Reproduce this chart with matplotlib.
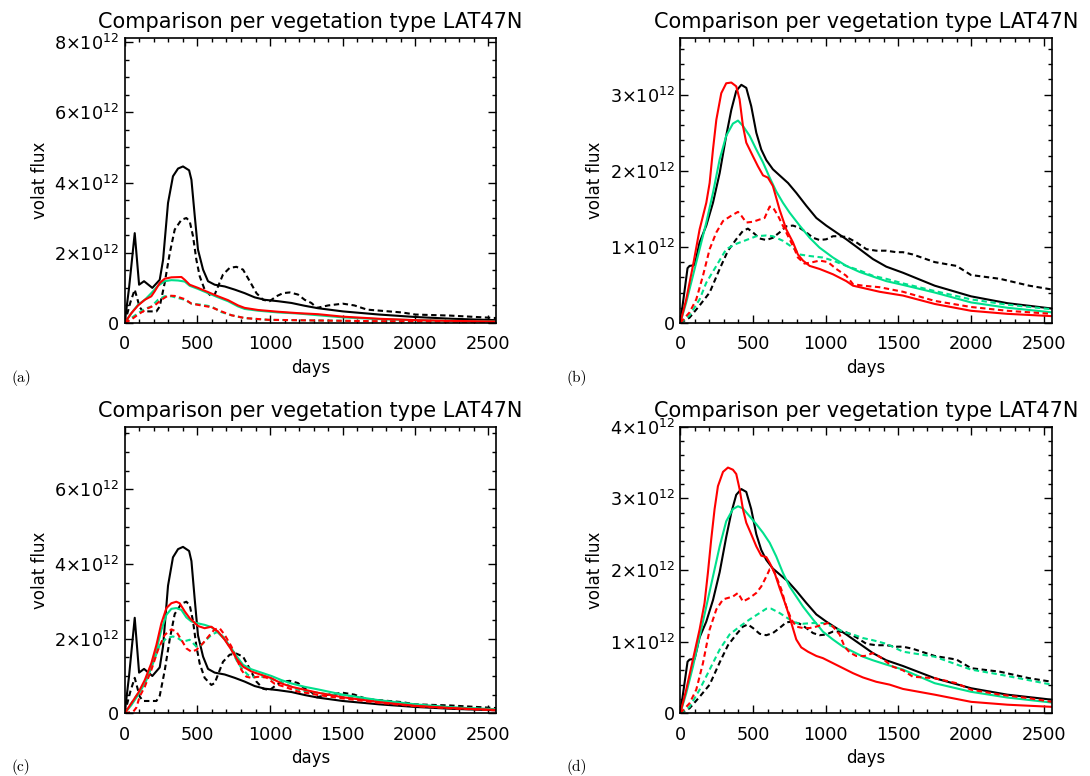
import matplotlib
matplotlib.use("Agg")
import matplotlib.pyplot as plt
from matplotlib.ticker import MultipleLocator, FuncFormatter

plt.rcParams["font.family"] = ["DejaVu Sans"]
plt.rcParams["mathtext.default"] = "regular"

TITLE = "Comparison per vegetation type LAT47N"
GREEN = "#00E08C"

# ---- reference (black) curves, shared by a/c and by b/d; values in 1e12 ----
ka_day = [0, 30, 69, 99, 133, 190, 241, 264, 298, 332, 367, 401, 443, 459, 482, 504,
          539, 573, 619, 688, 757, 825, 894, 963, 1055, 1147, 1238, 1330, 1500,
          1750, 2000, 2250, 2555]
ka_val = [0, 1.0, 2.56, 1.09, 1.19, 1.0, 1.23, 1.8, 3.42, 4.18, 4.4, 4.46, 4.35, 4.08,
          3.04, 2.09, 1.52, 1.19, 1.09, 1.04, 0.95, 0.85, 0.73, 0.66, 0.62, 0.57,
          0.49, 0.42, 0.33, 0.24, 0.17, 0.12, 0.08]
kda_day = [0, 40, 69, 103, 126, 218, 241, 275, 310, 344, 390, 424, 447, 470, 493,
           516, 550, 596, 619, 642, 676, 722, 768, 814, 860, 906, 952, 997, 1043,
           1089, 1135, 1192, 1238, 1284, 1322, 1400, 1500, 1580, 1667, 1757, 1906,
           2000, 2239, 2555]
kda_val = [0, 0.6, 0.95, 0.45, 0.33, 0.33, 0.47, 1.14, 1.99, 2.66, 2.94, 2.99, 2.9,
           2.47, 1.8, 1.33, 0.95, 0.76, 0.81, 1.04, 1.38, 1.57, 1.6, 1.52, 1.19, 0.85,
           0.66, 0.62, 0.76, 0.85, 0.87, 0.81, 0.66, 0.57, 0.43, 0.5, 0.55, 0.5,
           0.38, 0.35, 0.30, 0.24, 0.21, 0.14]

kb_day = [0, 50, 64, 99, 133, 179, 225, 271, 316, 351, 385, 420, 454, 488, 523, 557,
          592, 637, 683, 741, 798, 867, 936, 1004, 1073, 1142, 1234, 1325, 1417,
          1532, 1750, 2000, 2250, 2555]
kb_val = [0, 0.72, 0.75, 0.76, 1.06, 1.28, 1.58, 1.97, 2.46, 2.8, 3.05, 3.13, 3.09,
          2.85, 2.5, 2.28, 2.14, 2.02, 1.94, 1.84, 1.71, 1.54, 1.38, 1.28, 1.19, 1.10,
          0.97, 0.84, 0.74, 0.66, 0.49, 0.35, 0.26, 0.19]
kdb_day = [0, 64, 133, 202, 271, 328, 385, 431, 465, 500, 546, 592, 637, 683, 729,
           775, 821, 867, 913, 958, 1004, 1050, 1096, 1142, 1211, 1280, 1348, 1417,
           1486, 1532, 1600, 1750, 1900, 2000, 2200, 2400, 2555]
kdb_val = [0, 0.07, 0.23, 0.40, 0.71, 0.95, 1.10, 1.21, 1.24, 1.19, 1.11, 1.09, 1.12,
           1.19, 1.27, 1.28, 1.25, 1.19, 1.12, 1.09, 1.10, 1.14, 1.14, 1.13, 1.06,
           0.97, 0.95, 0.95, 0.93, 0.93, 0.90, 0.80, 0.75, 0.63, 0.58, 0.49, 0.44]

# ---- panel (a) ----
ga_day = [0, 46, 92, 138, 183, 229, 275, 321, 367, 413, 447, 504, 573, 642, 711, 780,
          825, 917, 1055, 1192, 1330, 1500, 1750, 2000, 2250, 2555]
ga_val = [0, 0.28, 0.52, 0.66, 0.85, 1.06, 1.19, 1.22, 1.21, 1.18, 1.06, 0.97, 0.85,
          0.73, 0.62, 0.47, 0.40, 0.35, 0.30, 0.27, 0.22, 0.16, 0.11, 0.08, 0.06, 0.04]
ra_day = [0, 46, 92, 138, 183, 206, 241, 275, 321, 390, 413, 447, 504, 573, 642, 711,
          780, 825, 917, 1055, 1192, 1330, 1500, 1750, 2000, 2250, 2555]
ra_val = [0, 0.28, 0.50, 0.66, 0.76, 0.90, 1.14, 1.26, 1.30, 1.31, 1.23, 1.09, 1.0,
          0.88, 0.76, 0.65, 0.50, 0.43, 0.37, 0.32, 0.28, 0.25, 0.18, 0.12, 0.08,
          0.06, 0.04]
gda_day = [0, 46, 92, 138, 183, 229, 275, 321, 367, 413, 459, 527, 596, 665, 734,
           825, 986, 1330, 1750, 2555]
gda_val = [0, 0.14, 0.28, 0.40, 0.47, 0.66, 0.76, 0.76, 0.71, 0.66, 0.55, 0.52, 0.47,
           0.31, 0.22, 0.14, 0.09, 0.07, 0.05, 0.03]
rda_day = [0, 46, 92, 160, 206, 252, 298, 344, 413, 459, 527, 596, 665, 734, 825,
           986, 1330, 1750, 2555]
rda_val = [0, 0.10, 0.24, 0.42, 0.50, 0.66, 0.78, 0.77, 0.68, 0.55, 0.50, 0.45, 0.33,
           0.22, 0.14, 0.09, 0.07, 0.05, 0.03]

# ---- panel (b) ----
rb_day = [0, 41, 87, 133, 179, 202, 225, 248, 282, 316, 351, 385, 408, 431, 454, 500,
          534, 569, 603, 637, 683, 729, 775, 809, 844, 890, 958, 1050, 1142, 1188,
          1280, 1371, 1532, 1750, 2000, 2250, 2555]
rb_val = [0, 0.31, 0.75, 1.23, 1.58, 1.84, 2.28, 2.67, 3.02, 3.15, 3.16, 3.11, 2.94,
          2.59, 2.37, 2.19, 2.06, 1.94, 1.91, 1.80, 1.49, 1.23, 1.06, 0.90, 0.82,
          0.75, 0.71, 0.64, 0.55, 0.49, 0.45, 0.41, 0.36, 0.25, 0.16, 0.12, 0.09]
gb_day = [0, 41, 87, 133, 179, 225, 271, 316, 362, 397, 431, 477, 523, 569, 615, 660,
          706, 752, 821, 890, 958, 1050, 1142, 1234, 1325, 1417, 1532, 1750, 2000,
          2250, 2555]
gb_val = [0, 0.27, 0.62, 0.97, 1.32, 1.71, 2.15, 2.46, 2.62, 2.66, 2.59, 2.46, 2.28,
          2.11, 1.91, 1.73, 1.58, 1.45, 1.28, 1.12, 0.99, 0.86, 0.75, 0.67, 0.61,
          0.55, 0.50, 0.40, 0.27, 0.20, 0.14]
gdb_day = [0, 64, 133, 179, 248, 316, 385, 454, 523, 592, 637, 706, 775, 821, 890,
           981, 1050, 1142, 1234, 1325, 1417, 1532, 1750, 2000, 2250, 2555]
gdb_val = [0, 0.10, 0.31, 0.53, 0.75, 0.97, 1.04, 1.09, 1.14, 1.15, 1.14, 1.08, 0.99,
           0.90, 0.88, 0.86, 0.82, 0.75, 0.69, 0.62, 0.58, 0.52, 0.42, 0.31, 0.24,
           0.18]
rdb_day = [0, 64, 110, 156, 202, 248, 294, 351, 397, 420, 454, 500, 546, 580, 615,
           637, 672, 718, 752, 786, 809, 855, 913, 958, 1016, 1073, 1142, 1188, 1257,
           1371, 1532, 1750, 2000, 2250, 2555]
rdb_val = [0, 0.14, 0.31, 0.62, 0.97, 1.19, 1.34, 1.41, 1.46, 1.41, 1.32, 1.33, 1.36,
           1.38, 1.53, 1.52, 1.41, 1.23, 1.10, 0.97, 0.86, 0.78, 0.80, 0.82, 0.80,
           0.71, 0.62, 0.51, 0.49, 0.47, 0.41, 0.29, 0.21, 0.16, 0.12]

# ---- panel (c) ----
rc_day = [0, 46, 92, 138, 183, 218, 252, 287, 321, 355, 378, 413, 447, 504, 550, 596,
          642, 688, 734, 768, 814, 871, 940, 1009, 1078, 1147, 1238, 1330, 1500,
          1750, 2000, 2250, 2555]
rc_val = [0, 0.27, 0.54, 0.89, 1.34, 1.83, 2.41, 2.82, 2.95, 2.99, 2.95, 2.73, 2.55,
          2.34, 2.28, 2.32, 2.19, 1.97, 1.70, 1.47, 1.25, 1.12, 1.03, 0.94, 0.80,
          0.71, 0.63, 0.55, 0.43, 0.30, 0.20, 0.14, 0.09]
gc_day = [0, 46, 92, 138, 183, 218, 252, 287, 321, 355, 390, 424, 459, 504, 550, 596,
          642, 688, 734, 768, 814, 871, 940, 1009, 1078, 1147, 1238, 1330, 1500,
          1750, 2000, 2250, 2555]
gc_val = [0, 0.22, 0.49, 0.80, 1.25, 1.70, 2.23, 2.64, 2.80, 2.82, 2.77, 2.57, 2.46,
          2.41, 2.37, 2.31, 2.16, 1.98, 1.74, 1.54, 1.30, 1.18, 1.09, 1.0, 0.89,
          0.80, 0.71, 0.64, 0.50, 0.35, 0.24, 0.16, 0.11]
rdc_day = [0, 60, 80, 103, 138, 183, 229, 275, 321, 355, 390, 424, 459, 493, 539, 585,
           619, 653, 688, 734, 768, 803, 837, 871, 917, 975, 1032, 1101, 1192, 1261,
           1330, 1500, 1750, 2000, 2250, 2555]
rdc_val = [0, 0.05, 0.15, 0.45, 0.71, 1.16, 1.70, 2.10, 2.25, 2.19, 1.97, 1.74, 1.65,
           1.70, 1.88, 2.10, 2.25, 2.28, 2.10, 1.79, 1.47, 1.16, 0.98, 0.95, 0.98,
           0.96, 0.79, 0.71, 0.58, 0.54, 0.49, 0.40, 0.28, 0.19, 0.13, 0.08]
gdc_day = [0, 46, 92, 149, 195, 241, 287, 332, 367, 401, 447, 493, 527, 562, 596, 642,
           688, 734, 768, 803, 848, 894, 963, 1032, 1101, 1192, 1261, 1330, 1500,
           1750, 2000, 2250, 2555]
gdc_val = [0, 0.27, 0.54, 0.89, 1.34, 1.83, 2.01, 2.06, 2.01, 1.92, 1.97, 1.79, 1.83,
           1.97, 2.10, 2.19, 2.01, 1.70, 1.43, 1.21, 1.03, 0.97, 0.98, 0.89, 0.80,
           0.63, 0.58, 0.55, 0.45, 0.32, 0.22, 0.15, 0.10]

# ---- panel (d) ----
rd_day = [0, 41, 87, 133, 167, 190, 213, 236, 259, 294, 328, 362, 385, 408, 431, 454,
          488, 523, 557, 592, 615, 649, 683, 729, 764, 798, 832, 878, 936, 981, 1050,
          1119, 1188, 1257, 1348, 1440, 1532, 1750, 2000, 2250, 2555]
rd_val = [0, 0.33, 0.75, 1.17, 1.54, 1.96, 2.43, 2.85, 3.17, 3.37, 3.43, 3.40, 3.34,
          3.13, 2.85, 2.66, 2.50, 2.33, 2.20, 2.18, 2.10, 1.96, 1.75, 1.49, 1.26,
          1.03, 0.92, 0.86, 0.80, 0.77, 0.70, 0.63, 0.56, 0.50, 0.44, 0.40, 0.34,
          0.26, 0.16, 0.12, 0.09]
gd_day = [0, 41, 87, 133, 179, 225, 271, 316, 362, 397, 431, 477, 523, 569, 615, 660,
          706, 752, 798, 844, 913, 981, 1050, 1119, 1188, 1257, 1325, 1417, 1532,
          1750, 2000, 2250, 2555]
gd_val = [0, 0.28, 0.65, 1.07, 1.49, 1.91, 2.33, 2.68, 2.85, 2.89, 2.86, 2.75, 2.64,
          2.52, 2.38, 2.19, 1.96, 1.77, 1.63, 1.49, 1.31, 1.14, 1.03, 0.93, 0.86,
          0.79, 0.74, 0.68, 0.61, 0.42, 0.30, 0.22, 0.15]
gdd_day = [0, 64, 133, 202, 271, 339, 408, 477, 546, 592, 626, 683, 752, 798, 844,
           913, 981, 1050, 1119, 1188, 1257, 1325, 1417, 1532, 1750, 2000, 2200, 2555]
gdd_val = [0, 0.09, 0.33, 0.61, 0.89, 1.10, 1.21, 1.31, 1.40, 1.46, 1.46, 1.40, 1.31,
           1.26, 1.25, 1.26, 1.26, 1.21, 1.14, 1.10, 1.05, 1.02, 0.97, 0.86, 0.79,
           0.61, 0.54, 0.40]
rdd_day = [0, 64, 110, 156, 202, 248, 294, 362, 397, 431, 477, 523, 557, 592, 615,
           637, 660, 695, 729, 764, 798, 844, 890, 936, 981, 1016, 1050, 1096, 1130,
           1165, 1211, 1268, 1325, 1371, 1417, 1463, 1532, 1600, 1750, 1900, 2000,
           2200, 2400, 2555]
rdd_val = [0, 0.14, 0.33, 0.70, 1.17, 1.45, 1.59, 1.63, 1.68, 1.56, 1.61, 1.68, 1.77,
           1.91, 2.01, 2.01, 1.91, 1.73, 1.49, 1.31, 1.21, 1.19, 1.19, 1.21, 1.24,
           1.26, 1.21, 1.10, 0.93, 0.85, 0.80, 0.80, 0.84, 0.79, 0.72, 0.65, 0.60,
           0.51, 0.49, 0.42, 0.33, 0.26, 0.21, 0.16]

PANELS = [
    ("(a)", 8.13, 2, 0.5,
     [(ka_day, ka_val, "k", "-"), (kda_day, kda_val, "k", "--"),
      (ga_day, ga_val, GREEN, "-"), (gda_day, gda_val, GREEN, "--"),
      (ra_day, ra_val, "red", "-"), (rda_day, rda_val, "red", "--")]),
    ("(b)", 3.75, 1, 0.2,
     [(kb_day, kb_val, "k", "-"), (kdb_day, kdb_val, "k", "--"),
      (gb_day, gb_val, GREEN, "-"), (gdb_day, gdb_val, GREEN, "--"),
      (rb_day, rb_val, "red", "-"), (rdb_day, rdb_val, "red", "--")]),
    ("(c)", 7.68, 2, 0.5,
     [(ka_day, ka_val, "k", "-"), (kda_day, kda_val, "k", "--"),
      (gc_day, gc_val, GREEN, "-"), (gdc_day, gdc_val, GREEN, "--"),
      (rc_day, rc_val, "red", "-"), (rdc_day, rdc_val, "red", "--")]),
    ("(d)", 4.0, 1, 0.2,
     [(kb_day, kb_val, "k", "-"), (kdb_day, kdb_val, "k", "--"),
      (gd_day, gd_val, GREEN, "-"), (gdd_day, gdd_val, GREEN, "--"),
      (rd_day, rd_val, "red", "-"), (rdd_day, rdd_val, "red", "--")]),
]

# axes rectangles in figure fractions, taken from the reference layout
RECTS = [
    [0.1144, 0.5838, 0.3408, 0.3677],
    [0.6241, 0.5838, 0.3408, 0.3677],
    [0.1144, 0.0808, 0.3408, 0.3693],
    [0.6241, 0.0808, 0.3408, 0.3693],
]
LABEL_POS = [(0.011, 0.5129), (0.520, 0.5129), (0.011, 0.0116), (0.520, 0.0116)]


def sci_label(v, _pos):
    n = int(round(v / 1e12))
    if n == 0:
        return "0"
    return r"$%d{\times}10^{12}$" % n


fig = plt.figure(figsize=(10.9, 7.76), dpi=100)

for (tag, ymax, major, minor, curves), rect, lpos in zip(PANELS, RECTS, LABEL_POS):
    ax = fig.add_axes(rect)
    for days, vals, col, ls in curves:
        line, = ax.plot(days, [v * 1e12 for v in vals], color=col, lw=1.5, ls=ls)
        if ls == "--":
            line.set_dashes((2.6, 1.7))
    ax.set_xlim(0, 2555)
    ax.set_ylim(0, ymax * 1e12)
    ax.xaxis.set_major_locator(MultipleLocator(500))
    ax.xaxis.set_minor_locator(MultipleLocator(100))
    ax.yaxis.set_major_locator(MultipleLocator(major * 1e12))
    ax.yaxis.set_minor_locator(MultipleLocator(minor * 1e12))
    ax.yaxis.set_major_formatter(FuncFormatter(sci_label))
    ax.tick_params(which="both", direction="in", top=True, right=True,
                   width=1.0, labelsize=12.7)
    ax.tick_params(which="major", length=5.5, pad=9)
    ax.tick_params(which="minor", length=3)
    ax.tick_params(axis="y", which="major", pad=4)
    for sp in ax.spines.values():
        sp.set_linewidth(1.2)
    ax.set_title(TITLE, fontsize=15, pad=7)
    ax.set_xlabel("days", fontsize=12, labelpad=4)
    ax.set_ylabel("volat flux", fontsize=12, labelpad=4)
    fig.text(lpos[0], lpos[1], tag, fontsize=11, va="center",
             family=["cmr10", "DejaVu Serif"])

fig.savefig("out.png", dpi=100)
